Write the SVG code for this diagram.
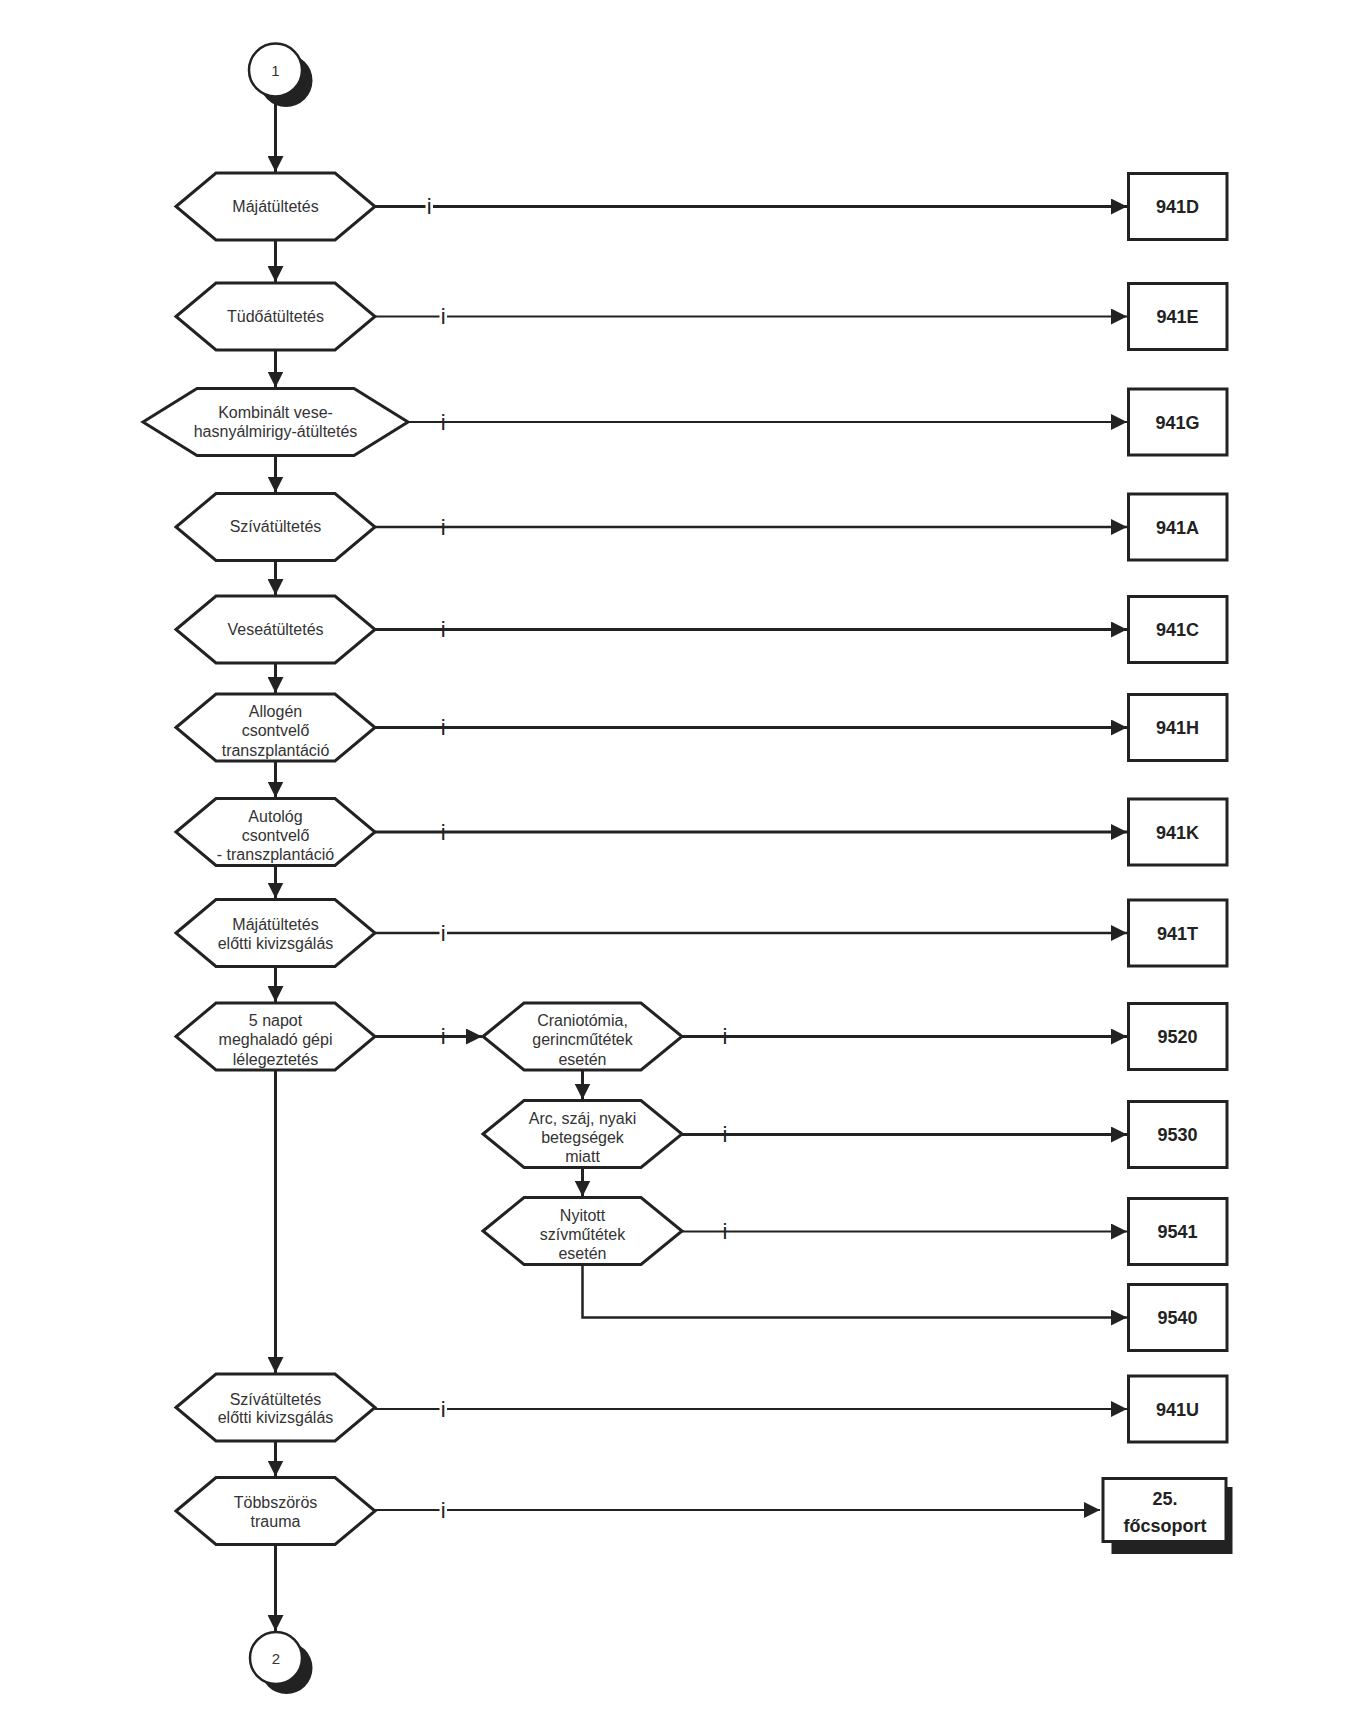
<svg xmlns="http://www.w3.org/2000/svg" width="1357" height="1735" viewBox="0 0 1357 1735">
<defs>
<marker id="ah" markerUnits="userSpaceOnUse" markerWidth="16" markerHeight="16" viewBox="0 0 16 16" refX="16" refY="8" orient="auto">
<path d="M0,0 L16,8 L0,16 z" fill="#222"/>
</marker>
</defs>
<style>
.hex{fill:#fff;stroke:#222;stroke-width:3;stroke-linejoin:miter}
.box{fill:#fff;stroke:#222;stroke-width:3}
.lbl{font-family:"Liberation Sans",Arial,sans-serif;font-size:16px;fill:#333;text-anchor:middle}
.code{font-family:"Liberation Sans",Arial,sans-serif;font-size:18px;font-weight:bold;fill:#222;text-anchor:middle}
.i{font-family:"Liberation Sans",Arial,sans-serif;font-size:22px;fill:#222;text-anchor:middle}
.thick{fill:none;stroke:#222;stroke-width:3;marker-end:url(#ah)}
.thin{fill:none;stroke:#222;stroke-width:2;marker-end:url(#ah)}
.gap{fill:#fff}
.circ{fill:#fff;stroke:#222;stroke-width:2.5}
.shadow{fill:#222}
</style>
<rect width="1357" height="1735" fill="#fff"/>

<g id="connectors">
<line class="thick" x1="275.5" y1="97" x2="275.5" y2="172"/>
<line class="thick" x1="275.5" y1="240" x2="275.5" y2="282"/>
<line class="thick" x1="275.5" y1="350" x2="275.5" y2="387.5"/>
<line class="thick" x1="275.5" y1="455.5" x2="275.5" y2="492.5"/>
<line class="thick" x1="275.5" y1="560.5" x2="275.5" y2="595"/>
<line class="thick" x1="275.5" y1="663" x2="275.5" y2="693"/>
<line class="thick" x1="275.5" y1="761" x2="275.5" y2="797.5"/>
<line class="thick" x1="275.5" y1="865.5" x2="275.5" y2="898.5"/>
<line class="thick" x1="275.5" y1="966.5" x2="275.5" y2="1002"/>
<line class="thick" x1="275.5" y1="1070" x2="275.5" y2="1373"/>
<line class="thick" x1="275.5" y1="1441" x2="275.5" y2="1476.5"/>
<line class="thick" x1="275.5" y1="1544.5" x2="275.5" y2="1631"/>
<line class="thick" x1="582.5" y1="1070" x2="582.5" y2="1099.5"/>
<line class="thick" x1="582.5" y1="1167.5" x2="582.5" y2="1196.5"/>
<polyline class="thin" points="582.5,1264.5 582.5,1317.5 1127,1317.5" style="stroke-width:2.5"/>
<line class="thick" x1="375" y1="206.5" x2="1127" y2="206.5"/>
<line class="thin" x1="375" y1="316.5" x2="1127" y2="316.5"/>
<line class="thin" x1="408" y1="422" x2="1127" y2="422"/>
<line class="thin" x1="375" y1="527" x2="1127" y2="527" style="stroke-width:2.5"/>
<line class="thick" x1="375" y1="629.5" x2="1127" y2="629.5"/>
<line class="thick" x1="375" y1="727.5" x2="1127" y2="727.5"/>
<line class="thick" x1="375" y1="832" x2="1127" y2="832"/>
<line class="thin" x1="375" y1="933" x2="1127" y2="933" style="stroke-width:2.5"/>
<line class="thick" x1="375" y1="1036.5" x2="482" y2="1036.5"/>
<line class="thick" x1="682" y1="1036.5" x2="1127" y2="1036.5"/>
<line class="thick" x1="682" y1="1134.5" x2="1127" y2="1134.5"/>
<line class="thin" x1="682" y1="1231.5" x2="1127" y2="1231.5"/>
<line class="thin" x1="375" y1="1409" x2="1127" y2="1409"/>
<line class="thin" x1="375" y1="1510" x2="1100" y2="1510"/>
<rect class="gap" x="425.5" y="200" width="7.5" height="14"/>
<text class="i" x="429.3" y="214">i</text>
<rect class="gap" x="439.5" y="310" width="7.5" height="14"/>
<text class="i" x="443.3" y="324">i</text>
<text class="i" x="443.3" y="429.5">i</text>
<text class="i" x="443.3" y="534.5">i</text>
<text class="i" x="443.3" y="637">i</text>
<text class="i" x="443.3" y="735">i</text>
<text class="i" x="443.3" y="839.5">i</text>
<rect class="gap" x="439.5" y="926.5" width="7.5" height="14"/>
<text class="i" x="443.3" y="940.5">i</text>
<text class="i" x="443.3" y="1044">i</text>
<text class="i" x="725" y="1044">i</text>
<text class="i" x="725" y="1142">i</text>
<text class="i" x="725" y="1239">i</text>
<rect class="gap" x="439.5" y="1402.5" width="7.5" height="14"/>
<text class="i" x="443.3" y="1416.5">i</text>
<rect class="gap" x="439.5" y="1503.5" width="7.5" height="14"/>
<text class="i" x="443.3" y="1517.5">i</text>
</g>

<g id="start">
<circle class="shadow" cx="286" cy="80.5" r="26.5"/>
<circle class="circ" cx="275.5" cy="70" r="26.5"/>
<text class="lbl" x="275.5" y="75.5" style="font-size:15px">1</text>
</g>

<g id="n1"><polygon class="hex" points="176,206.5 216,173 335,173 375,206.5 335,240 216,240"/><text class="lbl" x="275.5" y="211.7">Májátültetés</text></g>
<g id="n2"><polygon class="hex" points="176,316.5 216,283 335,283 375,316.5 335,350 216,350"/><text class="lbl" x="275.5" y="321.7">Tüdőátültetés</text></g>
<g id="n3"><polygon class="hex" points="143,422 197,388.5 354,388.5 408,422 354,455.5 197,455.5"/><text class="lbl" x="275.5" y="418.3">Kombinált vese-</text><text class="lbl" x="275.5" y="437.3">hasnyálmirigy-átültetés</text></g>
<g id="n4"><polygon class="hex" points="176,527 216,493.5 335,493.5 375,527 335,560.5 216,560.5"/><text class="lbl" x="275.5" y="532.2">Szívátültetés</text></g>
<g id="n5"><polygon class="hex" points="176,629.5 216,596 335,596 375,629.5 335,663 216,663"/><text class="lbl" x="275.5" y="634.7">Veseátültetés</text></g>
<g id="n6"><polygon class="hex" points="176,727.5 216,694 335,694 375,727.5 335,761 216,761"/><text class="lbl" x="275.5" y="717">Allogén</text><text class="lbl" x="275.5" y="736.3">csontvelő</text><text class="lbl" x="275.5" y="755.6">transzplantáció</text></g>
<g id="n7"><polygon class="hex" points="176,832 216,798.5 335,798.5 375,832 335,865.5 216,865.5"/><text class="lbl" x="275.5" y="821.5">Autológ</text><text class="lbl" x="275.5" y="840.8">csontvelő</text><text class="lbl" x="275.5" y="860.1">- transzplantáció</text></g>
<g id="n8"><polygon class="hex" points="176,933 216,899.5 335,899.5 375,933 335,966.5 216,966.5"/><text class="lbl" x="275.5" y="930">Májátültetés</text><text class="lbl" x="275.5" y="948.5">előtti kivizsgálás</text></g>
<g id="n9"><polygon class="hex" points="176,1036.5 216,1003 335,1003 375,1036.5 335,1070 216,1070"/><text class="lbl" x="275.5" y="1026">5 napot</text><text class="lbl" x="275.5" y="1045.3">meghaladó gépi</text><text class="lbl" x="275.5" y="1064.6">lélegeztetés</text></g>
<g id="n10"><polygon class="hex" points="176,1407.5 216,1374 335,1374 375,1407.5 335,1441 216,1441"/><text class="lbl" x="275.5" y="1404.5">Szívátültetés</text><text class="lbl" x="275.5" y="1423">előtti kivizsgálás</text></g>
<g id="n11"><polygon class="hex" points="176,1511 216,1477.5 335,1477.5 375,1511 335,1544.5 216,1544.5"/><text class="lbl" x="275.5" y="1508">Többszörös</text><text class="lbl" x="275.5" y="1526.5">trauma</text></g>

<g id="s1"><polygon class="hex" points="483,1036.5 524,1003 641,1003 682,1036.5 641,1070 524,1070"/><text class="lbl" x="582.5" y="1026">Craniotómia,</text><text class="lbl" x="582.5" y="1045.3">gerincműtétek</text><text class="lbl" x="582.5" y="1064.6">esetén</text></g>
<g id="s2"><polygon class="hex" points="483,1134 524,1100.5 641,1100.5 682,1134 641,1167.5 524,1167.5"/><text class="lbl" x="582.5" y="1123.5">Arc, száj, nyaki</text><text class="lbl" x="582.5" y="1142.8">betegségek</text><text class="lbl" x="582.5" y="1162.1">miatt</text></g>
<g id="s3"><polygon class="hex" points="483,1231 524,1197.5 641,1197.5 682,1231 641,1264.5 524,1264.5"/><text class="lbl" x="582.5" y="1220.5">Nyitott</text><text class="lbl" x="582.5" y="1239.8">szívműtétek</text><text class="lbl" x="582.5" y="1259.1">esetén</text></g>

<g id="b941D"><rect class="box" x="1128.5" y="173.5" width="98.5" height="66"/><text class="code" x="1177.5" y="213">941D</text></g>
<g id="b941E"><rect class="box" x="1128.5" y="283.5" width="98.5" height="66"/><text class="code" x="1177.5" y="323">941E</text></g>
<g id="b941G"><rect class="box" x="1128.5" y="389" width="98.5" height="66"/><text class="code" x="1177.5" y="428.5">941G</text></g>
<g id="b941A"><rect class="box" x="1128.5" y="494" width="98.5" height="66"/><text class="code" x="1177.5" y="533.5">941A</text></g>
<g id="b941C"><rect class="box" x="1128.5" y="596.5" width="98.5" height="66"/><text class="code" x="1177.5" y="636">941C</text></g>
<g id="b941H"><rect class="box" x="1128.5" y="694.5" width="98.5" height="66"/><text class="code" x="1177.5" y="734">941H</text></g>
<g id="b941K"><rect class="box" x="1128.5" y="799" width="98.5" height="66"/><text class="code" x="1177.5" y="838.5">941K</text></g>
<g id="b941T"><rect class="box" x="1128.5" y="900" width="98.5" height="66"/><text class="code" x="1177.5" y="939.5">941T</text></g>
<g id="b9520"><rect class="box" x="1128.5" y="1003.5" width="98.5" height="66"/><text class="code" x="1177.5" y="1043">9520</text></g>
<g id="b9530"><rect class="box" x="1128.5" y="1101.5" width="98.5" height="66"/><text class="code" x="1177.5" y="1141">9530</text></g>
<g id="b9541"><rect class="box" x="1128.5" y="1198.5" width="98.5" height="66"/><text class="code" x="1177.5" y="1238">9541</text></g>
<g id="b9540"><rect class="box" x="1128.5" y="1284.5" width="98.5" height="66"/><text class="code" x="1177.5" y="1324">9540</text></g>
<g id="b941U"><rect class="box" x="1128.5" y="1376" width="98.5" height="66"/><text class="code" x="1177.5" y="1415.5">941U</text></g>
<g id="b25"><rect class="shadow" x="1111.5" y="1487" width="121" height="67"/><rect class="box" x="1103" y="1478.5" width="123" height="63"/><text class="code" x="1165" y="1505">25.</text><text class="code" x="1165" y="1531.5">főcsoport</text></g>

<g id="end">
<circle class="shadow" cx="286.5" cy="1668" r="26"/>
<circle class="circ" cx="276" cy="1658" r="26"/>
<text class="lbl" x="276" y="1663.5" style="font-size:15px">2</text>
</g>
</svg>
